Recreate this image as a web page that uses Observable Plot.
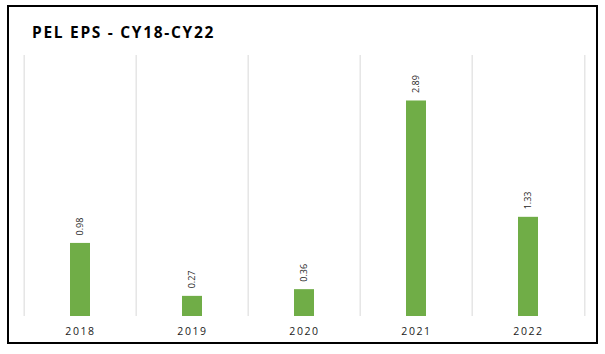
<!DOCTYPE html>
<html>
<head>
<meta charset="utf-8">
<script src="https://cdn.jsdelivr.net/npm/d3@7"></script>
<script src="https://cdn.jsdelivr.net/npm/@observablehq/plot@0.6"></script>
<style>
  html, body { margin: 0; padding: 0; background: #fff; }
  #wrap { position: relative; width: 605px; height: 354px; overflow: hidden; }
  #border { position: absolute; left: 7px; top: 5px; width: 591px; height: 339px; border: 2px solid #000; box-sizing: border-box; pointer-events: none; }
  #title { position: absolute; left: 32px; top: 21px; margin: 0; font: bold 15.5px "Open Sans", sans-serif; letter-spacing: 1.7px; color: #000; }
  #chart { position: absolute; left: 0; top: 0; }
</style>
</head>
<body>
<div id="wrap">
  <div id="chart"></div>
  <div id="border"></div>
  <h2 id="title">PEL EPS - CY18-CY22</h2>
</div>
<script>
const years = ["2018", "2019", "2020", "2021", "2022"];
const eps = [0.98, 0.27, 0.36, 2.89, 1.33];
const labels = ["0.98", "0.27", "0.36", "2.89", "1.33"];

const data = years.map((y, i) => ({year: y, eps: eps[i], label: labels[i]}));

const W = 605, H = 354;
const mL = 22, mR = 19.5, mT = 55, mB = 38;
const step = (W - mL - mR) / years.length;
const pad = 0.82;

const chart = Plot.plot({
  width: W,
  height: H,
  marginLeft: mL,
  marginRight: mR,
  marginTop: mT,
  marginBottom: mB,
  style: {fontFamily: "'Open Sans', sans-serif", background: "transparent"},
  x: {domain: years, paddingInner: pad, paddingOuter: pad / 2, label: null, tickSize: 0, tickPadding: 11},
  y: {domain: [0, 3.5], axis: null},
  marks: [
    Plot.ruleX(years, {x: d => d, dx: -step / 2, y1: 0, y2: 3.5, stroke: "#d9d9d9", strokeWidth: 1}),
    Plot.ruleX([years[years.length - 1]], {x: d => d, dx: step / 2, y1: 0, y2: 3.5, stroke: "#d9d9d9", strokeWidth: 1}),
    Plot.ruleY([0], {stroke: "#d9d9d9", strokeWidth: 1.5, x1: null}),
    Plot.barY(data, {x: "year", y: "eps", fill: "#70ad47"}),
    Plot.text(data, {x: "year", y: "eps", text: "label", rotate: -90, textAnchor: "start", dy: -8, fontSize: 9, fill: "#262626", letterSpacing: "0.3px"})
  ]
});
chart.querySelectorAll('g[aria-label="x-axis tick label"] text').forEach(t => {
  t.setAttribute("letter-spacing", "1.6px");
});
const ax = chart.querySelector('g[aria-label="x-axis tick label"]');
if (ax) { ax.setAttribute("font-size", "10.5"); ax.setAttribute("fill", "#1a1a1a"); }
document.getElementById("chart").appendChild(chart);
</script>
</body>
</html>
